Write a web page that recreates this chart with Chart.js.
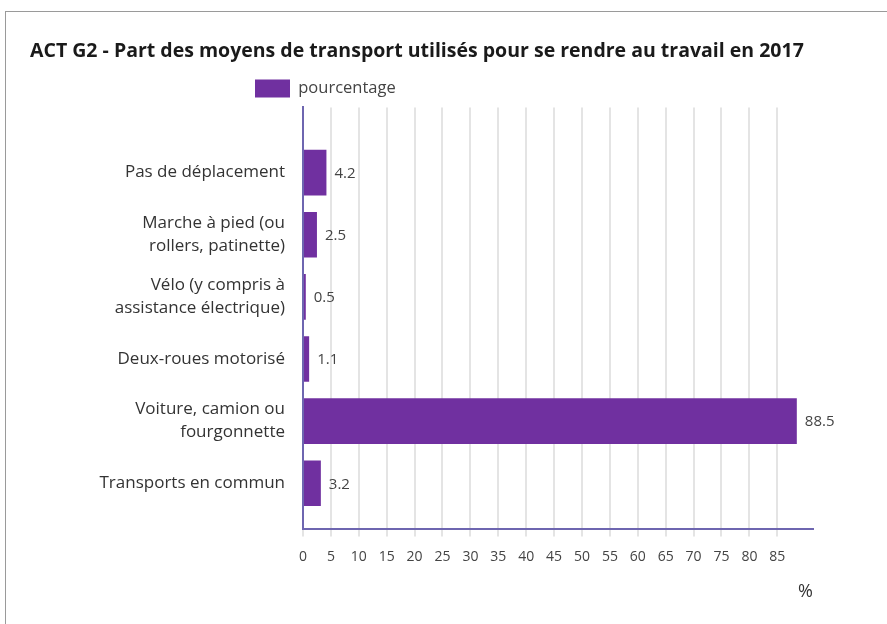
<!DOCTYPE html>
<html>
<head>
<meta charset="utf-8">
<script src="https://cdn.jsdelivr.net/npm/chart.js@4"></script>
<style>
  html, body { margin: 0; padding: 0; background: #fff; }
  #frame { position: absolute; left: 5px; top: 11px; width: 900px; height: 700px;
           border-top: 1px solid #9a9a9a; border-left: 1px solid #9a9a9a; }
  #wrap { position: absolute; left: 0; top: 0; width: 887px; height: 624px; }
</style>
</head>
<body>
<div id="frame"></div>
<div id="wrap"><canvas id="chart"></canvas></div>
<script>
const titleText = "ACT G2 - Part des moyens de transport utilisés pour se rendre au travail en 2017";
const seriesName = "pourcentage";
const categories = [
  ["Pas de déplacement"],
  ["Marche à pied (ou", "rollers, patinette)"],
  ["Vélo (y compris à", "assistance électrique)"],
  ["Deux-roues motorisé"],
  ["Voiture, camion ou", "fourgonnette"],
  ["Transports en commun"]
];
const values = [4.2, 2.5, 0.5, 1.1, 88.5, 3.2];
const xTickValues = [0, 5, 10, 15, 20, 25, 30, 35, 40, 45, 50, 55, 60, 65, 70, 75, 80, 85];
const xAxisTitle = "%";

const purple = "#7030a0";
const axisColor = "#6e66b0";
const font = "'Open Sans', 'DejaVu Sans', sans-serif";

// value written just after the end of each bar
const valueLabels = {
  id: "valueLabels",
  afterDatasetsDraw(chart) {
    const ctx = chart.ctx;
    chart.getDatasetMeta(0).data.forEach((bar, i) => {
      ctx.save();
      ctx.font = "15px " + font;
      ctx.fillStyle = "#444";
      ctx.textBaseline = "middle";
      ctx.fillText(String(values[i]), bar.x + 8, bar.y + 1);
      ctx.restore();
    });
  }
};

// legend sits a bit left of the plot, not at the page edge
const legendShift = {
  id: "legendShift",
  afterLayout(chart) {
    chart.legend.left = chart.chartArea.left - 54;
  }
};

const config = {
  type: "bar",
  data: {
    datasets: [
      {
        label: seriesName,
        data: values.map((v, i) => ({ x: v, y: i })),
        backgroundColor: purple,
        borderWidth: 0,
        categoryPercentage: 1,
        barPercentage: 0.735
      }
    ]
  },
  options: {
    indexAxis: "y",
    responsive: true,
    maintainAspectRatio: false,
    animation: false,
    layout: { padding: { top: 40, left: 30, right: 74, bottom: 21 } },
    scales: {
      x: {
        type: "linear",
        min: 0,
        max: 91.4,
        afterBuildTicks: (s) => { s.ticks = xTickValues.map((v) => ({ value: v })); },
        grid: { color: "#e4e4e4", lineWidth: 2, tickLength: 8 },
        border: { color: axisColor, width: 2 },
        ticks: { color: "#444", font: { size: 14, family: font }, padding: 12, maxRotation: 0, autoSkip: false },
        title: { display: true, text: xAxisTitle, align: "end", color: "#333",
                 font: { size: 18, family: font }, padding: { top: 4, bottom: 0 } }
      },
      y: {
        type: "linear",
        reverse: true,
        offset: false,
        min: -1.05,
        max: 5.73,
        afterBuildTicks: (s) => { s.ticks = categories.map((c, i) => ({ value: i })); },
        afterFit: (s) => { s.width = 273; },
        grid: { display: false, offset: false },
        border: { color: axisColor, width: 2 },
        ticks: {
          callback: (v) => categories[v],
          color: "#333",
          font: { size: 17, family: font, lineHeight: 1.35 },
          padding: 10,
          autoSkip: false
        }
      }
    },
    plugins: {
      title: {
        display: true,
        text: titleText,
        align: "start",
        color: "#1a1a1a",
        font: { size: 19.5, weight: "bold", family: font },
        padding: { top: 0, bottom: 10 }
      },
      legend: {
        display: true,
        align: "start",
        labels: { boxWidth: 35, boxHeight: 18, color: "#444", font: { size: 16.5, family: font }, padding: 6 }
      },
      tooltip: { enabled: false }
    }
  },
  plugins: [valueLabels, legendShift]
};

window.chart = new Chart(document.getElementById("chart"), config);
</script>
</body>
</html>
